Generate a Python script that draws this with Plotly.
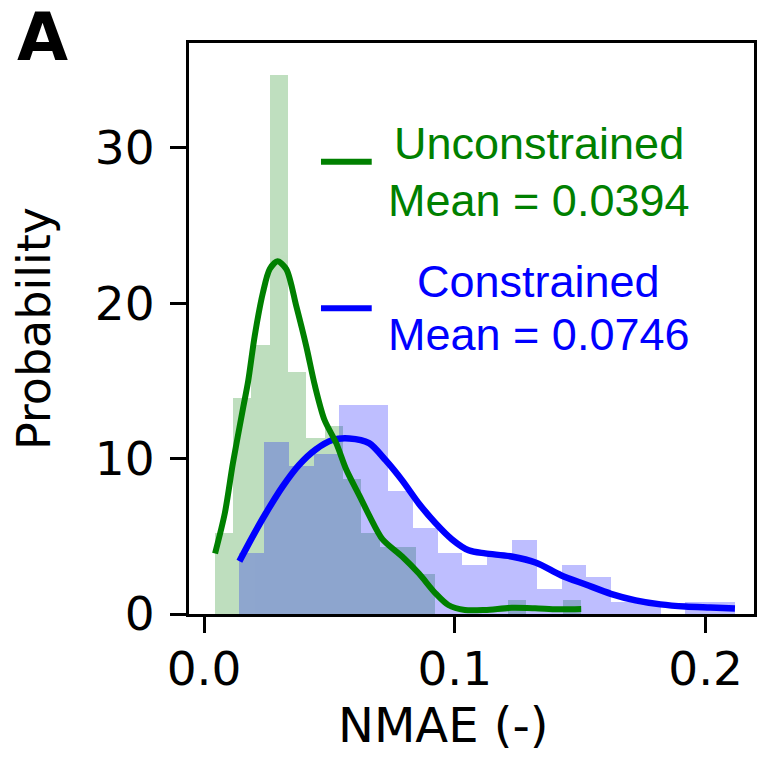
import numpy as np
import plotly.graph_objects as go

# ---- Histogram data (density), 20 equal-width bins per series ----
unc_range = (0.0042, 0.1504)
con_range = (0.0141, 0.2117)
unc_density = [5.2, 13.9, 17.3, 34.7, 15.6, 11.3, 12.1, 8.7, 5.2, 4.3,
               4.3, 2.6, 0.0, 0.0, 0.0, 0.0, 0.87, 0.0, 0.0, 0.87]
con_density = [3.95, 11.1, 9.5, 10.3, 13.45, 13.45, 7.9, 5.55, 3.95, 3.15,
               3.95, 4.75, 1.6, 3.15, 2.35, 0.8, 0.8, 0.0, 0.8, 0.8]

# ---- Kernel density curves ----
unc_kde_x = [0.0044, 0.0083, 0.0115, 0.0155, 0.0176, 0.0202, 0.0235, 0.0262,
             0.0293, 0.0328, 0.0368, 0.0408, 0.0442, 0.0480, 0.0527, 0.0567,
             0.0620, 0.0660, 0.0712, 0.0790, 0.0857, 0.0923, 0.0974, 0.1040,
             0.1120, 0.1227, 0.1320, 0.1410, 0.1504]
unc_kde_y = [3.9, 6.5, 9.7, 13.2, 15.0, 17.9, 20.7, 22.2,
             22.7, 22.2, 19.8, 17.2, 14.7, 12.5, 11.0, 9.3,
             7.6, 6.3, 4.8, 3.7, 2.6, 1.33, 0.58, 0.26,
             0.26, 0.4, 0.37, 0.3, 0.32]

con_kde_x = [0.0141, 0.0194, 0.0247, 0.0313, 0.0379, 0.0446, 0.0512, 0.0579,
             0.0658, 0.0724, 0.0790, 0.0857, 0.0923, 0.0989, 0.1055, 0.1121,
             0.1226, 0.1324, 0.1423, 0.1522, 0.1622, 0.1721, 0.1820, 0.1920,
             0.2019, 0.2117]
con_kde_y = [3.4, 5.0, 6.5, 8.2, 9.6, 10.6, 11.2, 11.3,
             11.0, 9.9, 8.6, 7.1, 5.85, 4.8, 4.1, 3.9,
             3.7, 3.3, 2.5, 1.9, 1.3, 0.88, 0.62, 0.48,
             0.42, 0.36]

unc_mean = 0.0394
con_mean = 0.0746

GREEN = "#008000"
BLUE = "#0000ff"


def bins(lo_hi, heights):
    edges = np.linspace(lo_hi[0], lo_hi[1], len(heights) + 1)
    width = edges[1] - edges[0]
    return edges[:-1] + width / 2, width


fig = go.Figure()

unc_centers, unc_w = bins(unc_range, unc_density)
con_centers, con_w = bins(con_range, con_density)

fig.add_trace(go.Bar(x=unc_centers, y=unc_density, width=unc_w,
                     marker=dict(color=GREEN, line=dict(width=0)),
                     opacity=0.25, hoverinfo="skip"))
fig.add_trace(go.Bar(x=con_centers, y=con_density, width=con_w,
                     marker=dict(color=BLUE, line=dict(width=0)),
                     opacity=0.25, hoverinfo="skip"))
fig.add_trace(go.Scatter(x=con_kde_x, y=con_kde_y, mode="lines",
                         line=dict(color=BLUE, width=6.5, shape="spline", smoothing=0.8)))
fig.add_trace(go.Scatter(x=unc_kde_x, y=unc_kde_y, mode="lines",
                         line=dict(color=GREEN, width=6, shape="spline", smoothing=0.8)))

axis_style = dict(showline=True, linewidth=3, linecolor="black", mirror=True,
                  ticks="outside", ticklen=16, tickwidth=3, tickcolor="black",
                  showgrid=False, zeroline=False,
                  tickfont=dict(family="DejaVu Sans", size=47, color="black"))

fig.update_xaxes(range=[-0.006, 0.2193], tickvals=[0, 0.1, 0.2],
                 ticktext=["0.0", "0.1", "0.2"], ticklabelstandoff=-4,
                 **axis_style)
fig.update_yaxes(range=[0, 36.75], tickvals=[0, 10, 20, 30],
                 ticklabelstandoff=6,
                 title=dict(text="Probability", standoff=30,
                            font=dict(family="DejaVu Sans", size=46, color="black")),
                 **axis_style)

# x-axis label
fig.add_annotation(text="NMAE (-)", xref="paper", yref="paper", x=0.4507, y=-0.1944,
                   xanchor="center", yanchor="middle", showarrow=False,
                   font=dict(family="DejaVu Sans", size=48, color="black"))

# Legend entries drawn as line samples with centred two-line labels
legend_font = "Liberation Sans, Arial, sans-serif"
for y_line, color in [(0.7921, GREEN), (0.5354, BLUE)]:
    fig.add_shape(type="line", xref="paper", yref="paper",
                  x0=0.2336, x1=0.3234, y0=y_line, y1=y_line,
                  line=dict(color=color, width=6))

labels = [
    ("Unconstrained", 0.6197, 0.8243, GREEN),
    (f"Mean = {unc_mean:.4f}", 0.6197, 0.7242, GREEN),
    ("Constrained", 0.6188, 0.5820, BLUE),
    (f"Mean = {con_mean:.4f}", 0.6197, 0.4890, BLUE),
]
for text, x, y, color in labels:
    fig.add_annotation(text=text, xref="paper", yref="paper", x=x, y=y,
                       xanchor="center", yanchor="middle", showarrow=False,
                       font=dict(family=legend_font, size=45, color=color))

# Panel letter
fig.add_annotation(text="<b>A</b>", xref="paper", yref="paper", x=-0.2588, y=1.009,
                   xanchor="center", yanchor="middle", showarrow=False,
                   font=dict(family="DejaVu Sans", size=66, color="black"))

fig.update_layout(width=761, height=759,
                  margin=dict(l=189, r=4, t=43, b=145),
                  plot_bgcolor="white", paper_bgcolor="white",
                  barmode="overlay", bargap=0, showlegend=False)

fig.write_html("out.html")
